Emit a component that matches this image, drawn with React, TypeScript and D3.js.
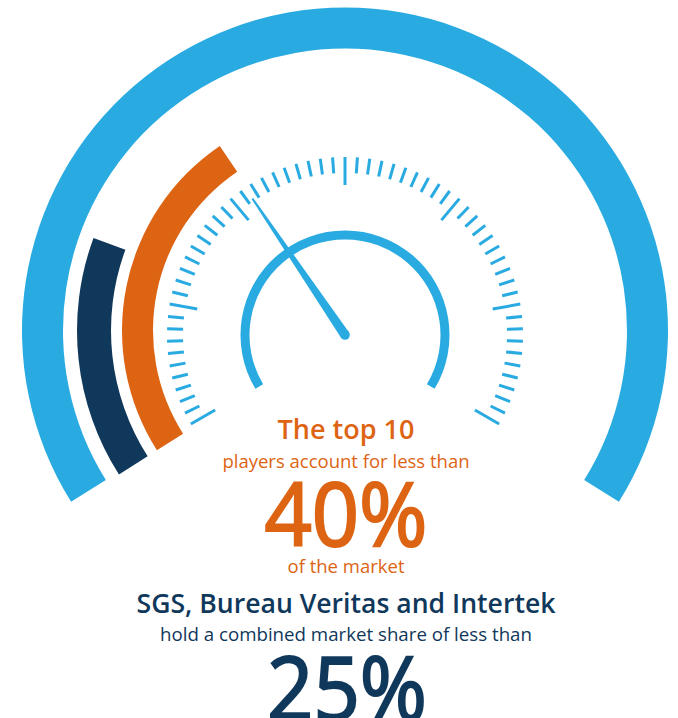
import React from "react";
import * as d3 from "d3";

// ---- data ----
const ringLabels = ["Whole market", "Top 10 players", "SGS, Bureau Veritas, Intertek"];
const ringValues = [100, 36, 21.4]; // share of gauge sweep shown by each ring
const ringColors = ["#29abe2", "#dd6413", "#10385b"];
const needleValue = 36;
const tickCount = 61;
const majorEvery = 10;

const headline1 = ["The top 10", "players account for less than", "40%", "of the market"];
const headline2 = ["SGS, Bureau Veritas and Intertek", "hold a combined market share of less than", "25%"];

const W = 678;
const H = 718;
const BLUE = "#29abe2";
const ORANGE = "#dd6413";
const NAVY = "#10385b";

const rad = (d: number) => (d * Math.PI) / 180;

export default function App() {
  const ringCx = 345;
  const ringCy = 330.5;
  const gCx = 345;
  const gCy = 335;

  const gaugeAngle = d3.scaleLinear().domain([0, 100]).range([-122, 122]);
  const tickAngle = d3.scaleLinear().domain([0, tickCount - 1]).range([-120, 120]);

  const ringRadii: [number, number][] = [
    [282, 323],
    [192, 223],
    [234, 268],
  ];

  const arc = d3.arc();
  const rings = ringValues.map((v, i) => {
    const [r0, r1] = ringRadii[i];
    return {
      label: ringLabels[i],
      color: ringColors[i],
      d: arc({
        innerRadius: r0,
        outerRadius: r1,
        startAngle: rad(i === 0 ? -122 : -122.5),
        endAngle: rad(gaugeAngle(v)),
      }) as string,
    };
  });

  const innerArc = arc({
    innerRadius: 95.5,
    outerRadius: 104.5,
    startAngle: rad(-121),
    endAngle: rad(121),
  }) as string;

  const ticks = d3.range(tickCount).map((i) => {
    const a = rad(tickAngle(i));
    const major = i % majorEvery === 0;
    const r1 = 178;
    const r0 = major ? 150 : 162;
    return {
      x1: gCx + r0 * Math.sin(a),
      y1: gCy - r0 * Math.cos(a),
      x2: gCx + r1 * Math.sin(a),
      y2: gCy - r1 * Math.cos(a),
      major,
    };
  });

  // needle
  const na = rad(gaugeAngle(needleValue));
  const len = 165;
  const wBase = 4.8;
  const wTip = 1;
  const ux = Math.sin(na);
  const uy = -Math.cos(na);
  const px = -uy;
  const py = ux;
  const needlePts: [number, number][] = [
    [gCx + px * wBase, gCy + py * wBase],
    [gCx + ux * len + px * wTip, gCy + uy * len + py * wTip],
    [gCx + ux * len - px * wTip, gCy + uy * len - py * wTip],
    [gCx - px * wBase, gCy - py * wBase],
  ];
  const needlePath = d3.line()(needlePts) + "Z";

  const tx = 346;
  const font = "'Open Sans', 'Noto Sans', sans-serif";

  return (
    <svg
      width={W}
      height={H}
      viewBox={`0 0 ${W} ${H}`}
      style={{ position: "absolute", left: 0, top: 0, background: "#fff" }}
    >
      <g transform={`translate(${ringCx},${ringCy})`}>
        {rings.map((r) => (
          <path key={r.label} d={r.d} fill={r.color} />
        ))}
      </g>
      <g>
        {ticks.map((t, i) => (
          <line
            key={i}
            x1={t.x1}
            y1={t.y1}
            x2={t.x2}
            y2={t.y2}
            stroke={BLUE}
            strokeWidth={3}
          />
        ))}
      </g>
      <path d={innerArc} transform={`translate(${gCx},${gCy})`} fill={BLUE} />
      <path d={needlePath} fill={BLUE} />
      <circle cx={gCx} cy={gCy} r={wBase} fill={BLUE} />

      <g fontFamily={font} textAnchor="middle">
        <text x={tx} y={439} fill={ORANGE} fontSize={27} fontWeight={600}>
          {headline1[0]}
        </text>
        <text x={tx} y={468} fill={ORANGE} fontSize={18.5}>
          {headline1[1]}
        </text>
        <text x={tx} y={545.5} fill={ORANGE} stroke={ORANGE} strokeWidth={2.2} fontSize={88} textLength={163} lengthAdjust="spacingAndGlyphs">
          {headline1[2]}
        </text>
        <text x={tx} y={572.5} fill={ORANGE} fontSize={18.5}>
          {headline1[3]}
        </text>
        <text x={tx} y={613} fill={NAVY} fontSize={26.6} fontWeight={600}>
          {headline2[0]}
        </text>
        <text x={tx} y={641} fill={NAVY} fontSize={18.7}>
          {headline2[1]}
        </text>
        <text x={347} y={719.5} fill={NAVY} stroke={NAVY} strokeWidth={2.2} fontSize={88} textLength={160} lengthAdjust="spacingAndGlyphs">
          {headline2[2]}
        </text>
      </g>
    </svg>
  );
}
